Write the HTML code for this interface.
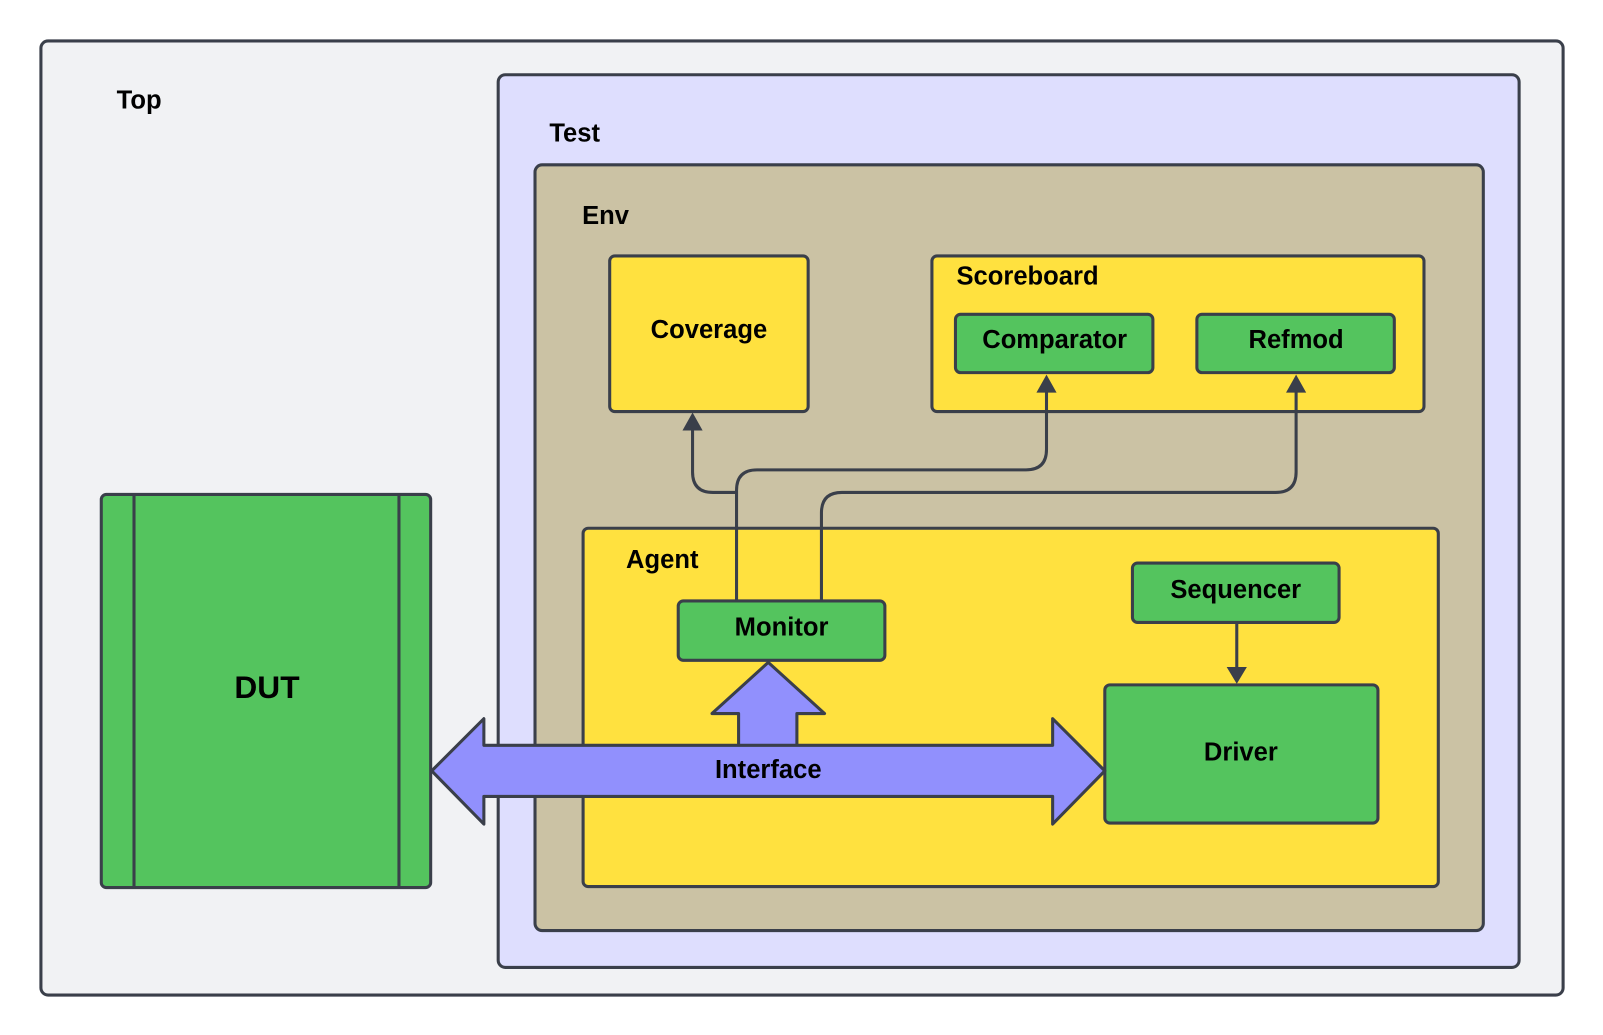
<!DOCTYPE html>
<html><head><meta charset="utf-8"><style>
html,body{margin:0;padding:0;background:#fff;}
svg{display:block;}
text{font-family:"Liberation Sans",Arial,sans-serif;font-weight:bold;fill:#000;}
</style></head><body>
<svg width="1603" height="1035" viewBox="0 0 1567 1011" preserveAspectRatio="none" xmlns="http://www.w3.org/2000/svg">
<g stroke="#3a3f4a" stroke-width="3">
<rect x="40" y="40" width="1488" height="932" rx="7" fill="#f1f2f4"/>
<rect x="487" y="73" width="998" height="872" rx="7" fill="#dedefe"/>
<rect x="523" y="161" width="927" height="748" rx="7" fill="#cbc2a4"/>
<rect x="596" y="250" width="194" height="152" rx="5" fill="#ffe13f"/>
<rect x="911" y="250" width="481" height="152" rx="5" fill="#ffe13f"/>
<rect x="934" y="307" width="193" height="57" rx="5" fill="#54c45e"/>
<rect x="1170" y="307" width="193" height="57" rx="5" fill="#54c45e"/>
<rect x="570" y="516" width="836" height="350" rx="5" fill="#ffe13f"/>
<rect x="663" y="587" width="202" height="58" rx="5" fill="#54c45e"/>
<rect x="1107" y="550" width="202" height="58" rx="5" fill="#54c45e"/>
<rect x="1080" y="669" width="267" height="135" rx="5" fill="#54c45e"/>
<rect x="99" y="483" width="322" height="384" rx="5" fill="#54c45e"/>
<line x1="131" y1="483" x2="131" y2="867"/>
<line x1="390" y1="483" x2="390" y2="867"/>
<g fill="none" stroke-width="3">
<path d="M720 587 V479 Q720 459 740 459 H1003 Q1023 459 1023 439 V380"/>
<path d="M720 481 H697 Q677 481 677 461 V418"/>
<path d="M803 587 V501 Q803 481 823 481 H1247 Q1267 481 1267 461 V380"/>
<path d="M1209 608 V655"/>
</g>
<polygon points="668,420 686,420 677,404" fill="#3a3f4a" stroke-width="1"/>
<polygon points="1014,383 1032,383 1023,367" fill="#3a3f4a" stroke-width="1"/>
<polygon points="1258,383 1276,383 1267,367" fill="#3a3f4a" stroke-width="1"/>
<polygon points="1200,652 1218,652 1209,667" fill="#3a3f4a" stroke-width="1"/>
<polygon points="722,729 722,697 696,697 751,647 806,697 779,697 779,729" fill="#9190fd" stroke-linejoin="round"/>
<polygon points="422,753 473,702 473,728 1029,728 1029,702 1080,753 1029,805 1029,778 473,778 473,805" fill="#9190fd" stroke-linejoin="round"/>
</g>
<text x="114" y="106" font-size="25">Top</text>
<text x="537" y="138" font-size="25">Test</text>
<text x="569" y="219" font-size="25">Env</text>
<text x="935" y="278" font-size="25">Scoreboard</text>
<text x="612" y="555" font-size="25">Agent</text>
<g text-anchor="middle" font-size="25">
<text x="693" y="330">Coverage</text>
<text x="1031" y="340">Comparator</text>
<text x="1267" y="340">Refmod</text>
<text x="764" y="621">Monitor</text>
<text x="1208" y="584">Sequencer</text>
<text x="1213" y="743">Driver</text>
<text x="751" y="760">Interface</text>
<text x="261" y="682" font-size="31">DUT</text>
</g>
</svg>
</body></html>
